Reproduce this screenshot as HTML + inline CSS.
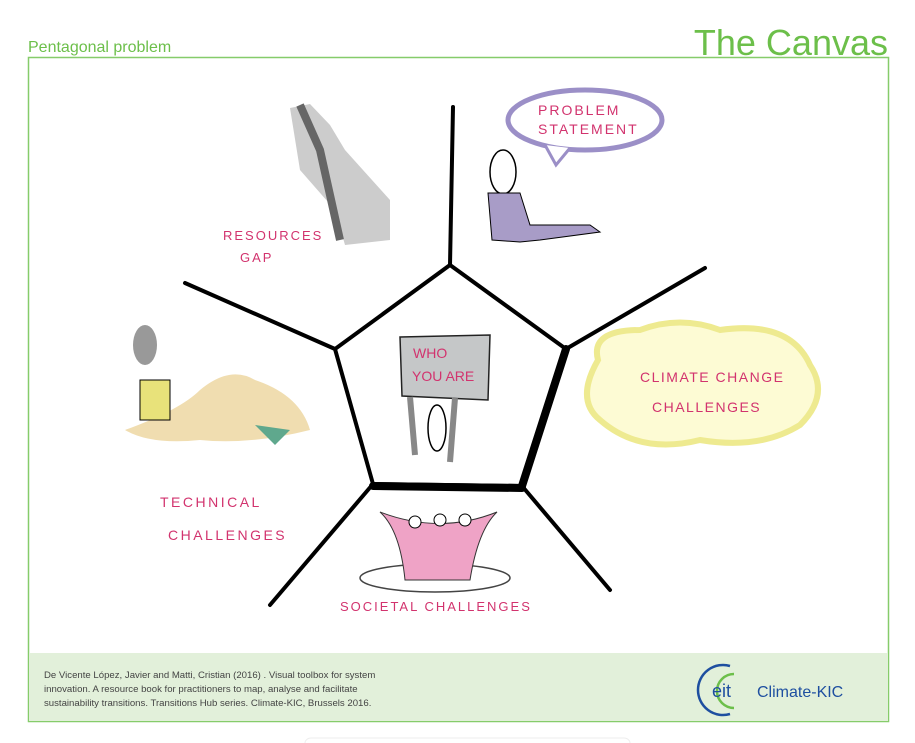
<!DOCTYPE html>
<html><head><meta charset="utf-8"><style>
body{margin:0;background:#fff;width:915px;height:743px;overflow:hidden;font-family:"Liberation Sans",sans-serif}
</style></head><body>
<svg width="915" height="743" xmlns="http://www.w3.org/2000/svg" style="position:absolute;left:0;top:0">
<text x="28" y="52" font-size="16" fill="#6cbf4a" font-family="Liberation Sans">Pentagonal problem</text>
<text x="888" y="55" font-size="36" fill="#6cbf4a" text-anchor="end" font-family="Liberation Sans">The Canvas</text>
<rect x="28.5" y="57.5" width="860" height="664" fill="none" stroke="#86cc6a" stroke-width="1.5"/>
<rect x="29" y="653" width="859" height="68" fill="#e2f0da"/>
<text font-size="9.6" fill="#444" font-family="Liberation Sans"><tspan x="44" y="678">De Vicente López, Javier and Matti, Cristian (2016) . Visual toolbox for system</tspan><tspan x="44" y="692">innovation. A resource book for practitioners to map, analyse and facilitate</tspan><tspan x="44" y="706">sustainability transitions. Transitions Hub series. Climate-KIC, Brussels 2016.</tspan></text>
<path d="M730 666 A25 25 0 1 0 730 714" fill="none" stroke="#1e4fa0" stroke-width="2.5"/>
<path d="M734 674 A16 16 0 1 0 734 708" fill="none" stroke="#6cbf4a" stroke-width="2.5"/>
<text x="712" y="697" font-size="18" fill="#1e4fa0">eit</text>
<text x="757" y="697" font-size="16" fill="#1e4fa0">Climate-KIC</text>
<rect x="305" y="738" width="325" height="10" rx="6" fill="none" stroke="#eee"/>
<g stroke="#000" stroke-width="4" fill="none" stroke-linecap="round">
<polygon points="450,265 566,349 522,486 373,484 335,349"/>
<line x1="450" y1="265" x2="453" y2="107"/>
<line x1="566" y1="349" x2="705" y2="268"/>
<line x1="522" y1="486" x2="610" y2="590"/>
<line x1="373" y1="484" x2="270" y2="605"/>
<line x1="335" y1="349" x2="185" y2="283"/>
<line x1="566" y1="349" x2="522" y2="486" stroke-width="8"/>
<line x1="373" y1="486" x2="522" y2="488" stroke-width="8"/>
</g>
<path d="M400 337 L490 335 L488 400 L402 396 Z" fill="#c5c7c8" stroke="#222" stroke-width="1.5"/>
<path d="M410 397 L415 455 M455 398 L450 462" stroke="#888" stroke-width="6"/>
<ellipse cx="437" cy="428" rx="9" ry="23" fill="#fff" stroke="#000" stroke-width="1.5"/>
<text x="413" y="358" font-size="14" fill="#d2336e">WHO</text>
<text x="412" y="381" font-size="14" fill="#d2336e">YOU ARE</text>
<path d="M290 108 L310 104 L330 125 L345 150 L390 200 L390 240 L345 245 L335 210 L300 170 Z" fill="#ccc"/>
<path d="M300 105 L320 150 L340 240" stroke="#666" stroke-width="8" fill="none"/>
<text x="223" y="240" font-size="13" fill="#d2336e" letter-spacing="2">RESOURCES</text>
<text x="240" y="262" font-size="13" fill="#d2336e" letter-spacing="2">GAP</text>
<ellipse cx="585" cy="120" rx="77" ry="30" fill="#fff" stroke="#9b8fc7" stroke-width="5"/>
<path d="M545 145 L556 165 L570 148" fill="#fff" stroke="#9b8fc7" stroke-width="3"/>
<text x="538" y="115" font-size="14" fill="#d2336e" letter-spacing="2">PROBLEM</text>
<text x="538" y="134" font-size="14" fill="#d2336e" letter-spacing="2">STATEMENT</text>
<ellipse cx="503" cy="172" rx="13" ry="22" fill="#fff" stroke="#000" stroke-width="1.5"/>
<path d="M488 193 L520 193 L530 225 L590 225 L600 232 L540 240 L520 242 L492 240 Z" fill="#a89cc7" stroke="#000"/>
<path d="M598 360 Q590 330 640 330 Q680 315 720 330 Q790 320 810 365 Q830 395 800 425 Q760 450 700 440 Q640 455 600 420 Q575 400 598 360Z" fill="#fdfbd4" stroke="#eeea90" stroke-width="6"/>
<text x="640" y="382" font-size="14" fill="#d2336e" letter-spacing="1.5">CLIMATE CHANGE</text>
<text x="652" y="412" font-size="14" fill="#d2336e" letter-spacing="1.5">CHALLENGES</text>
<path d="M125 430 Q180 410 200 390 Q230 365 255 380 Q300 395 310 430 Q250 445 200 440 Q150 445 125 430Z" fill="#f0ddb0"/>
<rect x="140" y="380" width="30" height="40" fill="#e8e27a" stroke="#000"/>
<ellipse cx="145" cy="345" rx="12" ry="20" fill="#999"/>
<path d="M255 425 L290 430 L275 445 Z" fill="#5fa88d"/>
<text x="160" y="507" font-size="14" fill="#d2336e" letter-spacing="2.5">TECHNICAL</text>
<text x="168" y="540" font-size="14" fill="#d2336e" letter-spacing="2.5">CHALLENGES</text>
<ellipse cx="435" cy="578" rx="75" ry="14" fill="#fff" stroke="#444" stroke-width="1.5"/>
<path d="M380 512 Q400 530 405 580 L470 580 Q478 530 497 512 Q440 535 380 512Z" fill="#efa3c6" stroke="#333"/>
<circle cx="415" cy="522" r="6" fill="#fff" stroke="#000"/><circle cx="440" cy="520" r="6" fill="#fff" stroke="#000"/><circle cx="465" cy="520" r="6" fill="#fff" stroke="#000"/>
<text x="340" y="611" font-size="13" fill="#d2336e" letter-spacing="2">SOCIETAL  CHALLENGES</text>
</svg>
</body></html>
